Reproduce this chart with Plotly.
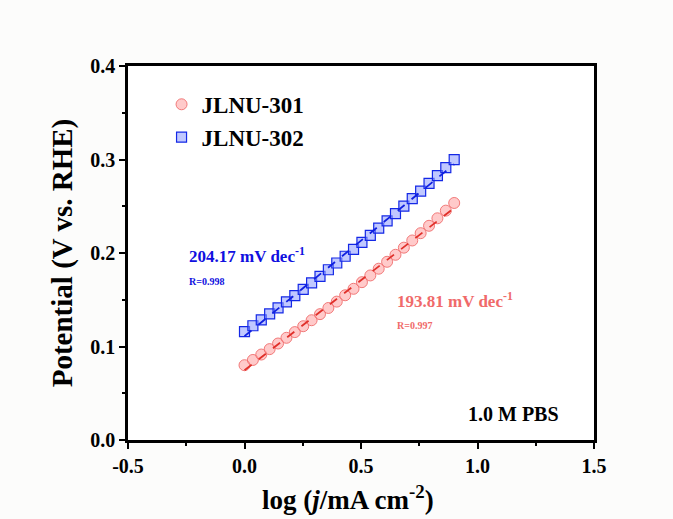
import numpy as np
import plotly.graph_objects as go

log_j = [0.000, 0.036, 0.072, 0.108, 0.144, 0.180, 0.216, 0.252, 0.288, 0.324,
         0.360, 0.396, 0.432, 0.468, 0.504, 0.540, 0.576, 0.612, 0.648, 0.684,
         0.720, 0.756, 0.792, 0.828, 0.864, 0.900]
jlnu301 = [0.0800, 0.0856, 0.0914, 0.0972, 0.1032, 0.1093, 0.1154, 0.1217, 0.1281, 0.1346,
           0.1412, 0.1480, 0.1548, 0.1617, 0.1688, 0.1760, 0.1832, 0.1906, 0.1981, 0.2057,
           0.2134, 0.2212, 0.2291, 0.2371, 0.2453, 0.2535]
jlnu302 = [0.1160, 0.1222, 0.1284, 0.1348, 0.1413, 0.1478, 0.1545, 0.1612, 0.1681, 0.1751,
           0.1821, 0.1893, 0.1965, 0.2039, 0.2113, 0.2189, 0.2265, 0.2343, 0.2421, 0.2501,
           0.2581, 0.2662, 0.2745, 0.2828, 0.2913, 0.2998]
names = ["JLNU-301", "JLNU-302"]
slopes = ["193.81 mV dec<sup>-1</sup>", "204.17 mV dec<sup>-1</sup>"]
rvals = ["R=0.997", "R=0.998"]
xticks = [-0.5, 0.0, 0.5, 1.0, 1.5]
yticks = [0.0, 0.1, 0.2, 0.3, 0.4]

FONT = "Liberation Serif"
fig = go.Figure()

x = np.array(log_j)
fits = []
for ys, col in [(jlnu301, "#e0302a"), (jlnu302, "#1020e0")]:
    p = np.polyfit(x, np.array(ys), 1)
    xf = np.array([x.min(), x.max()])
    fits.append(go.Scatter(x=xf, y=np.polyval(p, xf), mode="lines",
                           line=dict(color=col, width=1.8, dash="dash"),
                           showlegend=False, hoverinfo="skip"))

fig.add_trace(go.Scatter(x=log_j, y=jlnu301, mode="markers", name="<b>" + names[0] + "</b>",
                         marker=dict(symbol="circle", size=11,
                                     color="rgba(255,150,150,0.5)",
                                     line=dict(color="rgba(240,110,110,0.9)", width=1))))
fig.add_trace(go.Scatter(x=log_j, y=jlnu302, mode="markers", name="<b>" + names[1] + "</b>",
                         marker=dict(symbol="square", size=10,
                                     color="rgba(140,155,255,0.55)",
                                     line=dict(color="rgba(20,40,230,1)", width=1.2))))
for f in fits:
    fig.add_trace(f)

fig.add_annotation(x=0.645, y=0.150, xref="x", yref="y", text="<b>" + slopes[0] + "</b>",
                   showarrow=False, xanchor="left", yanchor="middle",
                   font=dict(family=FONT, size=17, color="#f06a6a"))
fig.add_annotation(x=0.645, y=0.122, xref="x", yref="y", text="<b>" + rvals[0] + "</b>",
                   showarrow=False, xanchor="left", yanchor="middle",
                   font=dict(family=FONT, size=10, color="#f06a6a"))
fig.add_annotation(x=-0.245, y=0.198, xref="x", yref="y", text="<b>" + slopes[1] + "</b>",
                   showarrow=False, xanchor="left", yanchor="middle",
                   font=dict(family=FONT, size=17, color="#1010e0"))
fig.add_annotation(x=-0.245, y=0.170, xref="x", yref="y", text="<b>" + rvals[1] + "</b>",
                   showarrow=False, xanchor="left", yanchor="middle",
                   font=dict(family=FONT, size=10, color="#1010e0"))
fig.add_annotation(x=1.36, y=0.028, xref="x", yref="y", text="<b>1.0 M PBS</b>",
                   showarrow=False, xanchor="right", yanchor="middle",
                   font=dict(family=FONT, size=20, color="black"))
# x-axis title
fig.add_annotation(x=0.472, y=-0.155, xref="paper", yref="paper",
                   text="<b>log (<i>j</i>/mA cm<sup>-2</sup>)</b>",
                   showarrow=False, xanchor="center", yanchor="middle",
                   font=dict(family=FONT, size=27, color="black"))

axis_common = dict(showline=True, linecolor="black", linewidth=2.5, mirror=True,
                   ticks="outside", ticklen=6, tickwidth=2, tickcolor="black",
                   showgrid=False, zeroline=False,
                   tickfont=dict(family=FONT, size=20, color="black"))

fig.update_xaxes(range=[-0.5, 1.5], tickvals=xticks,
                 ticktext=["<b>%.1f</b>" % v for v in xticks],
                 minor=dict(ticks="outside", dtick=0.25, ticklen=3, tickwidth=2, tickcolor="black"),
                 **axis_common)
fig.update_yaxes(range=[0, 0.4], tickvals=yticks,
                 ticktext=["<b>%.1f</b>" % v for v in yticks],
                 minor=dict(ticks="outside", dtick=0.05, ticklen=3, tickwidth=2, tickcolor="black"),
                 title=dict(text="<b>Potential (V vs. RHE)</b>", standoff=10,
                            font=dict(family=FONT, size=29, color="black")),
                 **axis_common)

fig.update_layout(width=673, height=519,
                  margin=dict(l=128, r=79, t=66, b=79),
                  paper_bgcolor="#fcfcfb", plot_bgcolor="white",
                  legend=dict(x=0.072, y=0.955, xanchor="left", yanchor="top",
                              bgcolor="rgba(0,0,0,0)", tracegroupgap=4,
                              font=dict(family=FONT, size=23, color="black"),
                              itemwidth=30),
                  showlegend=True)

fig.write_html("out.html")
